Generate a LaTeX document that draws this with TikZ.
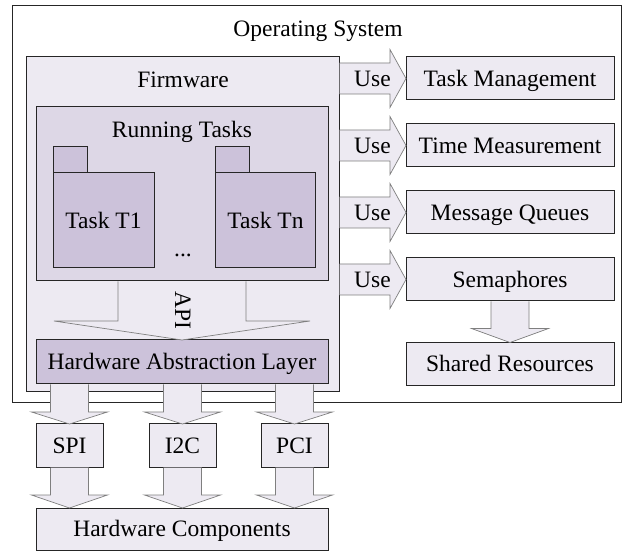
\documentclass[tikz,border=0pt]{standalone}
\usepackage{fontspec}
\setmainfont{Liberation Serif}
\usepackage{tikz}
\usetikzlibrary{positioning, calc}
\definecolor{fwfill}{HTML}{EDEAF2}
\definecolor{rtfill}{HTML}{DDD7E6}
\definecolor{taskfill}{HTML}{CCC2DA}
\definecolor{arrowgray}{HTML}{7F7F7F}
\tikzstyle{layer} = [rectangle, draw=black!85, line width=1pt, outer sep=0pt, inner sep=0pt, text height=15.5pt, text depth=0pt]
\tikzstyle{service} = [layer, minimum width=208pt, minimum height=43pt, fill=fwfill]
\tikzstyle{bus} = [layer, minimum width=67pt, minimum height=43pt, fill=fwfill]
\tikzstyle{task} = [layer, fill=taskfill]
\tikzstyle{tab} = [layer, fill=taskfill, minimum width=34pt, minimum height=26pt, anchor=south west]
\tikzstyle{fat} = [fill=fwfill, draw=arrowgray, line width=0.7pt]

% wide block arrows: start, tip, half shaft, half head, head length
\newcommand{\fatdown}[5]{%
  \path[fat] let \p1=(#1), \p2=(#2) in
    (\x1-#3,\y1-0.5) -- (\x1-#3,\y2+#5) -- (\x1-#4,\y2+#5) -- (\x2,\y2)
    -- (\x1+#4,\y2+#5) -- (\x1+#3,\y2+#5) -- (\x1+#3,\y1-0.5);}
\newcommand{\fatright}[5]{%
  \path[fat] let \p1=(#1), \p2=(#2) in
    (\x1+0.5,\y1+#3) -- (\x2-#5,\y1+#3) -- (\x2-#5,\y1+#4) -- (\x2,\y2)
    -- (\x2-#5,\y1-#4) -- (\x2-#5,\y1-#3) -- (\x1+0.5,\y1-#3);}

\begin{document}
\begin{tikzpicture}[x=1pt, y=1pt, font=\fontsize{23.5}{28}\selectfont]
\useasboundingbox (0,0) rectangle (624,552);

% Containers
\node (os) [layer, fill=white, minimum width=609pt, minimum height=397pt] at (316.5,347.5) {};
\node (fw) [layer, fill=fwfill, minimum width=313pt, minimum height=335pt] at (182.5,327.5) {};
\node (rt) [layer, fill=rtfill, minimum width=292pt, minimum height=174pt] at (182,358) {};

% Titles
\node [anchor=base] at (318,515) {Operating System};
\node [anchor=base] at (183,464) {Firmware};
\node [anchor=base] at (182,414) {Running Tasks};

% Tasks
\node (t1) [task, minimum width=101pt, minimum height=95pt] at (103.5,331.5) {Task T1};
\node (t1tab) [tab] at (t1.north west) {};
\node (tn) [task, minimum width=100pt, minimum height=95pt] at (265.5,331.5) {Task Tn};
\node (tntab) [tab] at (tn.north west) {};
\node (dots) [anchor=base] at (183,295) {...};

% Hardware side
\node (hal) [task, minimum width=292pt, minimum height=44pt] at (182,190) {Hardware Abstraction Layer};
\node (spi) [bus] at (69.5,106.5) {SPI};
\node (i2c) [bus, right=46pt of spi] {I2C};
\node (pci) [bus, right=45pt of i2c] {PCI};
\node (hw) [layer, fill=fwfill, minimum width=292pt, minimum height=42pt, below=41pt of i2c.south -| hal] {Hardware Components};

% Services
\node (tm) [service] at (510,473.5) {Task Management};
\node (tme) [service, below=24pt of tm] {Time Measurement};
\node (mq) [service, below=24pt of tme] {Message Queues};
\node (sem) [service, below=24pt of mq] {Semaphores};
\node (shr) [service, below=41.5pt of sem] {Shared Resources};

% API arrow
\fatdown{rt.south}{hal.north}{64}{128}{19}
\node (api) [rotate=-90] at (183,242) {API};

% Bus arrows
\foreach \b in {spi, i2c, pci} {
  \fatdown{\b.north |- hal.south}{\b.north}{19}{38}{12}
  \fatdown{\b.south}{\b.south |- hw.north}{19}{38}{13}
}

% Use arrows
\foreach \s in {tm, tme, mq, sem} {
  \fatright{fw.east |- \s.west}{\s.west}{15.5}{29}{16}
  \node at ($(fw.east |- \s.west)!0.5!(\s.west)$) {Use};
}
\fatdown{sem.south}{shr.north}{19}{38.5}{14}

\end{tikzpicture}
\end{document}
